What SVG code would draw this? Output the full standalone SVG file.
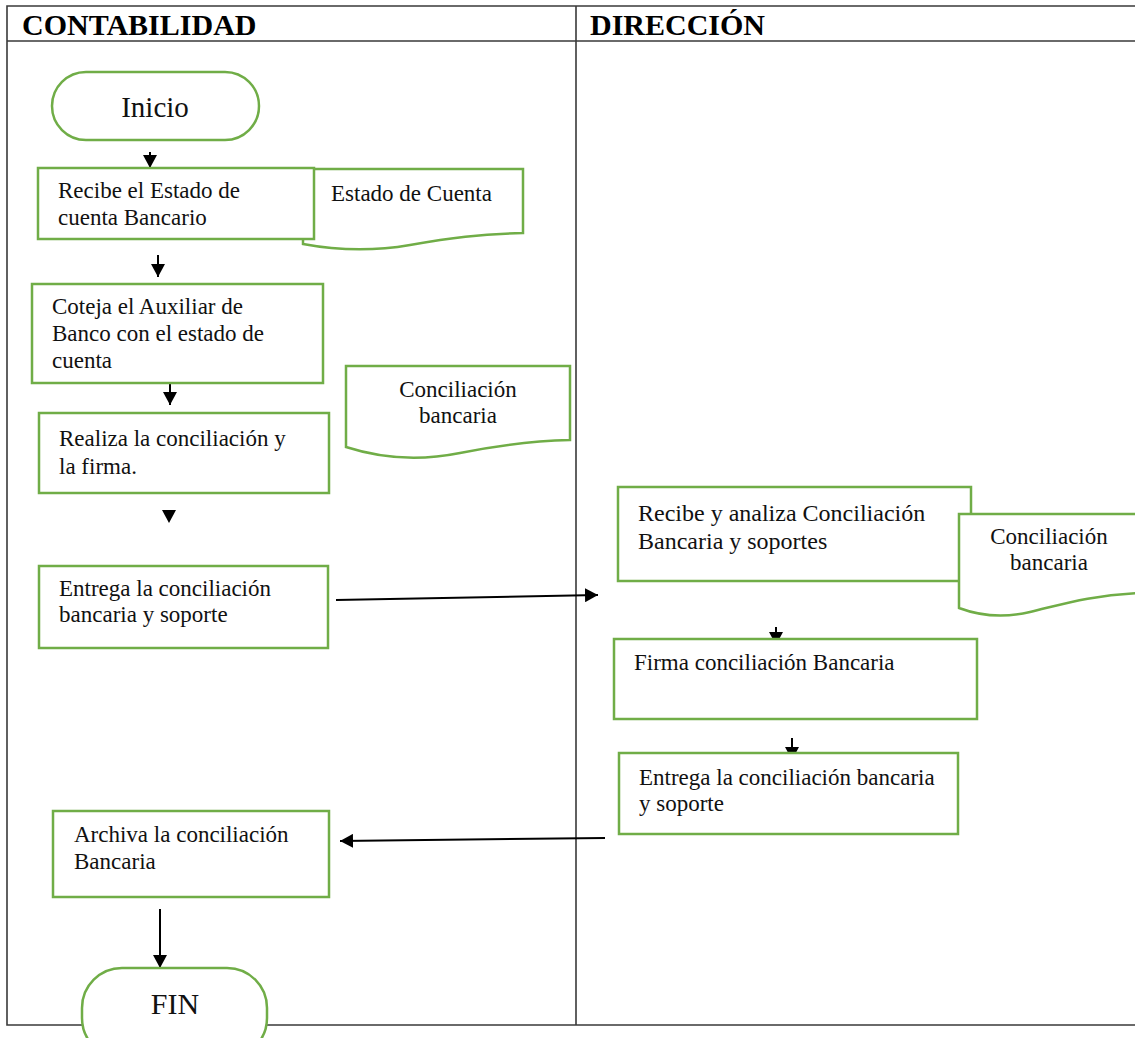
<svg xmlns="http://www.w3.org/2000/svg" width="1135" height="1038" viewBox="0 0 1135 1038">
<style>
.lane{fill:none;stroke:#3a3a3a;stroke-width:1.6}
.box{fill:#fff;stroke:#70ad47;stroke-width:2.5}
.t{font-family:"Liberation Serif","Times New Roman",serif;font-size:23px;fill:#111}
.h{font-family:"Liberation Serif","Times New Roman",serif;font-size:30px;font-weight:bold;fill:#000}
.c{stroke:#000;stroke-width:2;fill:none}
</style>
<defs>
<marker id="ah" markerUnits="userSpaceOnUse" markerWidth="14" markerHeight="14" refX="13" refY="7" orient="auto">
<path d="M0,0 L13,7 L0,14 z" fill="#000"/>
</marker>
</defs>
<rect width="1135" height="1038" fill="#fff"/>
<g id="lanes">
<path class="lane" d="M1135,6 H7 V1025 H1135 M7,41 H1135 M576,6 V1025"/>
<text class="h" x="22" y="35">CONTABILIDAD</text>
<text class="h" x="590" y="35">DIRECCIÓN</text>
</g>
<g id="connectors">
<line class="c" x1="150" y1="152" x2="150" y2="168" marker-end="url(#ah)"/>
<line class="c" x1="158" y1="255" x2="158" y2="277" marker-end="url(#ah)"/>
<line class="c" x1="170" y1="383" x2="170" y2="405" marker-end="url(#ah)"/>
<path d="M162,510 L176,510 L169,523 z" fill="#000"/>
<line class="c" x1="336" y1="600" x2="598" y2="595" marker-end="url(#ah)"/>
<line class="c" x1="776" y1="627" x2="776" y2="645" marker-end="url(#ah)"/>
<line class="c" x1="792" y1="738" x2="792" y2="760" marker-end="url(#ah)"/>
<line class="c" x1="605" y1="838" x2="340" y2="841" marker-end="url(#ah)"/>
<line class="c" x1="160" y1="909" x2="160" y2="968" marker-end="url(#ah)"/>
</g>
<g id="inicio">
<rect class="box" x="52" y="72" width="207" height="68" rx="34"/>
<text class="t" x="155" y="117" text-anchor="middle" style="font-size:29px">Inicio</text>
</g>
<g id="doc-estado">
<path class="box" d="M303,169 H523 V233 C480,234 450,238 410,245 C370,252 335,250 303,244 Z"/>
<text class="t" x="331" y="201">Estado de Cuenta</text>
</g>
<g id="recibe">
<rect class="box" x="38" y="168" width="276" height="71"/>
<text class="t" x="58" y="198">Recibe el Estado de</text>
<text class="t" x="58" y="225">cuenta Bancario</text>
</g>
<g id="coteja">
<rect class="box" x="32" y="284" width="291" height="99"/>
<text class="t" x="52" y="314">Coteja el Auxiliar de</text>
<text class="t" x="52" y="341">Banco con el estado de</text>
<text class="t" x="52" y="368">cuenta</text>
</g>
<g id="doc-conciliacion-1">
<path class="box" d="M346,366 H570 V440 C530,441 500,445 460,453 C420,461 380,458 346,447 Z"/>
<text class="t" x="458" y="397" text-anchor="middle">Conciliación</text>
<text class="t" x="458" y="423" text-anchor="middle">bancaria</text>
</g>
<g id="realiza">
<rect class="box" x="39" y="413" width="290" height="80"/>
<text class="t" x="59" y="446">Realiza la conciliación y</text>
<text class="t" x="59" y="474">la firma.</text>
</g>
<g id="entrega-1">
<rect class="box" x="39" y="566" width="289" height="82"/>
<text class="t" x="59" y="596">Entrega la conciliación</text>
<text class="t" x="59" y="622">bancaria y soporte</text>
</g>
<g id="analiza">
<rect class="box" x="618" y="487" width="353" height="94"/>
<text class="t" x="638" y="521" style="font-size:24px">Recibe y analiza Conciliación</text>
<text class="t" x="638" y="549" style="font-size:24px">Bancaria y soportes</text>
</g>
<g id="doc-conciliacion-2">
<path class="box" d="M959,514 H1140 V593 C1090,595 1060,605 1030,612 C1000,619 975,614 959,608 Z"/>
<text class="t" x="1049" y="544" text-anchor="middle">Conciliación</text>
<text class="t" x="1049" y="570" text-anchor="middle">bancaria</text>
</g>
<g id="firma">
<rect class="box" x="614" y="639" width="363" height="80"/>
<text class="t" x="634" y="670">Firma conciliación Bancaria</text>
</g>
<g id="entrega-2">
<rect class="box" x="619" y="753" width="339" height="81"/>
<text class="t" x="639" y="785">Entrega la conciliación bancaria</text>
<text class="t" x="639" y="811">y soporte</text>
</g>
<g id="archiva">
<rect class="box" x="53" y="811" width="276" height="86"/>
<text class="t" x="74" y="842">Archiva la conciliación</text>
<text class="t" x="74" y="869">Bancaria</text>
</g>
<g id="fin">
<rect class="box" x="82" y="968" width="185" height="90" rx="40"/>
<text class="t" x="175" y="1014" text-anchor="middle" style="font-size:30px">FIN</text>
</g>
</svg>
